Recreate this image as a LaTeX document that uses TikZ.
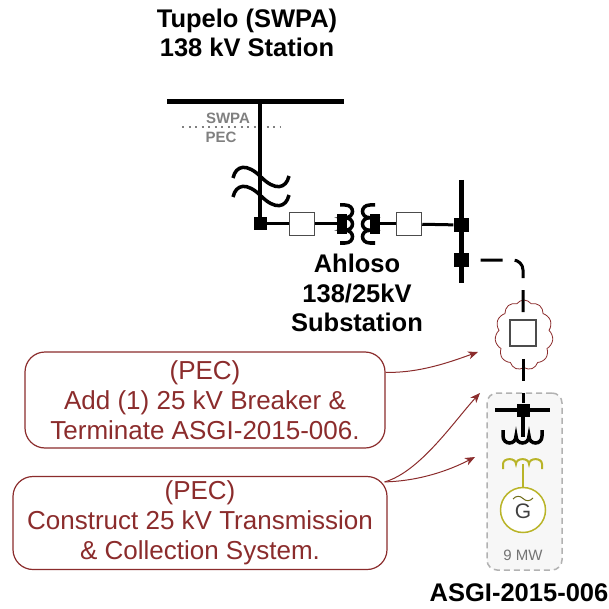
\documentclass[tikz,border=0pt]{standalone}
\usepackage{fontspec}
\setmainfont{Liberation Sans}
\usetikzlibrary{shapes.symbols,arrows.meta,calc}
\definecolor{pecred}{RGB}{139,44,44}
\definecolor{genolive}{RGB}{185,180,40}
\begin{document}
\begin{tikzpicture}[x=1pt,y=-1pt,
  lbl/.style={font=\fontsize{25.5}{29.5}\selectfont\bfseries, align=center, inner sep=0},
  small/.style={font=\fontsize{15}{17}\selectfont\bfseries, text=gray, inner sep=0},
  jn/.style={rectangle, fill=black, draw=none, minimum width=13pt, minimum height=13pt, inner sep=0},
  brk/.style={rectangle, draw=gray!60!black, fill=white, line width=1.5pt, minimum width=25pt, minimum height=23pt, inner sep=0},
  feed/.style={line width=3pt},
  coilk/.style={line width=3.5pt},
  callout/.style={rectangle, rounded corners=20pt, draw=pecred, line width=1.2pt, fill=white, text=pecred, align=center, inner sep=0, font=\fontsize{26}{30}\selectfont},
  parrow/.style={pecred, line width=1pt, -{Stealth[length=10pt,width=8pt,inset=3pt]}},
  dashpat/.style={feed, dash pattern=on 22pt off 12pt, dash phase=22pt}
]
\useasboundingbox (0,0) rectangle (608,609);

% titles
\node[lbl] (title) at (247,33) {Tupelo (SWPA)\\138 kV Station};
\node[lbl] (ahl) at (357,293) {Ahloso\\138/25kV\\Substation};
\node[lbl] (asgi) at (519,593) {ASGI-2015-006};

% top bus
\draw[line width=5pt] (167,102) -- (344,102);
% boundary
\draw[gray, line width=2pt, dash pattern=on 2pt off 4.5pt] (182,127) -- (281,127);
\node[small] (swpa) at (228,118) {SWPA};
\node[small] (pec) at (221,137) {PEC};

% junction and vertical
\node[jn] (j1) at (260,224) {};
\draw[line width=3.5pt] (260,102) -- (j1.center);
% break symbol
\draw[coilk] (233,178) .. controls (236,165) and (247,163) .. (261,177) .. controls (275,191) and (286,189) .. (289,176);
\draw[coilk] (233,197) .. controls (236,184) and (247,182) .. (261,196) .. controls (275,210) and (286,208) .. (289,195);

% breakers and feeder
\node[brk] (b1) at (302,224) {};
\node[brk] (b2) at (409,224) {};
\draw[line width=5pt] (461,180) -- (461,283);
\node[jn, minimum width=15pt, minimum height=14pt] (j2) at (461,225) {};
\node[jn, minimum width=15pt, minimum height=14pt] (j3) at (461,260) {};
\coordinate (tl) at (337,224);
\coordinate (tr) at (380,224);
\draw[feed] (j1) -- (b1);
\draw[feed] (b1) -- (tl);
\draw[feed] (tr) -- (b2);
\draw[feed] (b2) -- (j2);

% transformer
\fill (337,214) rectangle (347,234);
\draw[coilk] (340,205) -- (345,205) .. controls (355,205) and (355,217.7) .. (345,217.7) .. controls (355,217.7) and (355,230.3) .. (345,230.3) .. controls (355,230.3) and (355,243) .. (345,243) -- (340,243);
\fill (370,214) rectangle (380,234);
\draw[coilk] (375,205) -- (370,205) .. controls (360,205) and (360,217.7) .. (370,217.7) .. controls (360,217.7) and (360,230.3) .. (370,230.3) .. controls (360,230.3) and (360,243) .. (370,243) -- (375,243);

% ASGI box
\node[draw=gray!60, dash pattern=on 6pt off 4pt, line width=1.5pt, fill=gray!6, rounded corners=10pt, minimum width=75pt, minimum height=177pt, inner sep=0] (abox) at (524.5,481.5) {};

% cloud with breaker
\node[cloud, draw=pecred, line width=0.8pt, cloud puffs=11, cloud puff arc=110, cloud ignores aspect, minimum width=58pt, minimum height=70pt, inner sep=0] (cl) at (524,335) {};
\node[brk, minimum width=26pt, minimum height=26pt] (b3) at (523,333) {};
\node[jn] (j4) at (523,410) {};
\draw[dashpat] (j3.east) -- (513,260) .. controls (518.5,260) and (523,264.5) .. (523,270) -- (b3.north);
\draw[dashpat] (b3.south) -- (j4.north);
\draw[line width=4pt] (495,410) -- (550,410);
\node[jn] (j4b) at (523,410) {};

% black winding
\draw[coilk] (j4b.center) -- (523,437);
\draw[coilk] (503,430) -- (503,436) .. controls (503,445.3) and (516,445.3) .. (516,436) .. controls (516,445.3) and (529,445.3) .. (529,436) .. controls (529,445.3) and (542,445.3) .. (542,436) -- (542,430);

% olive winding and generator
\node[circle, draw=genolive, line width=1.5pt, fill=white, minimum size=45pt, inner sep=0, text=black!75, font=\fontsize{21}{21}\selectfont, text depth=0pt] (gen) at (523,510) {\raisebox{-3pt}{G}};
\draw[genolive, line width=2pt] (503,469) -- (503,464) .. controls (503,457.5) and (516,457.5) .. (516,464) .. controls (516,457.5) and (529,457.5) .. (529,464) .. controls (529,457.5) and (542,457.5) .. (542,464) -- (542,469);
\draw[genolive, line width=2pt] (523,464) -- (gen.north);
\draw[genolive!60!black, line width=1pt] (513,499) .. controls (516,495.5) and (520,495.5) .. (523,498.5) .. controls (526,501.5) and (530,501.5) .. (533,498);
\node[font=\fontsize{15}{17}\selectfont, text=gray!90!black, inner sep=0] (mw) at (523,555) {9 MW};

% callouts
\node[callout, minimum width=360pt, minimum height=96pt] (c1) at (205,400) {(PEC)\\Add (1) 25 kV Breaker \&\\Terminate ASGI-2015-006.};
\node[callout, minimum width=374pt, minimum height=93pt] (c2) at (200,523) {(PEC)\\Construct 25 kV Transmission\\\& Collection System.};

\coordinate (a1) at (478,352);
\coordinate (a2) at (480,393);
\coordinate (a3) at (475,457);
\draw[parrow] ($(c1.north east)+(0,21)$) .. controls (420,373) and (450,362) .. (a1);
\draw[parrow] ($(c2.north east)+(-3,6)$) .. controls (420,472) and (455,420) .. (a2);
\draw[parrow] ($(c2.north east)+(-3,6)$) .. controls (420,481) and (450,470) .. (a3);
\end{tikzpicture}
\end{document}
